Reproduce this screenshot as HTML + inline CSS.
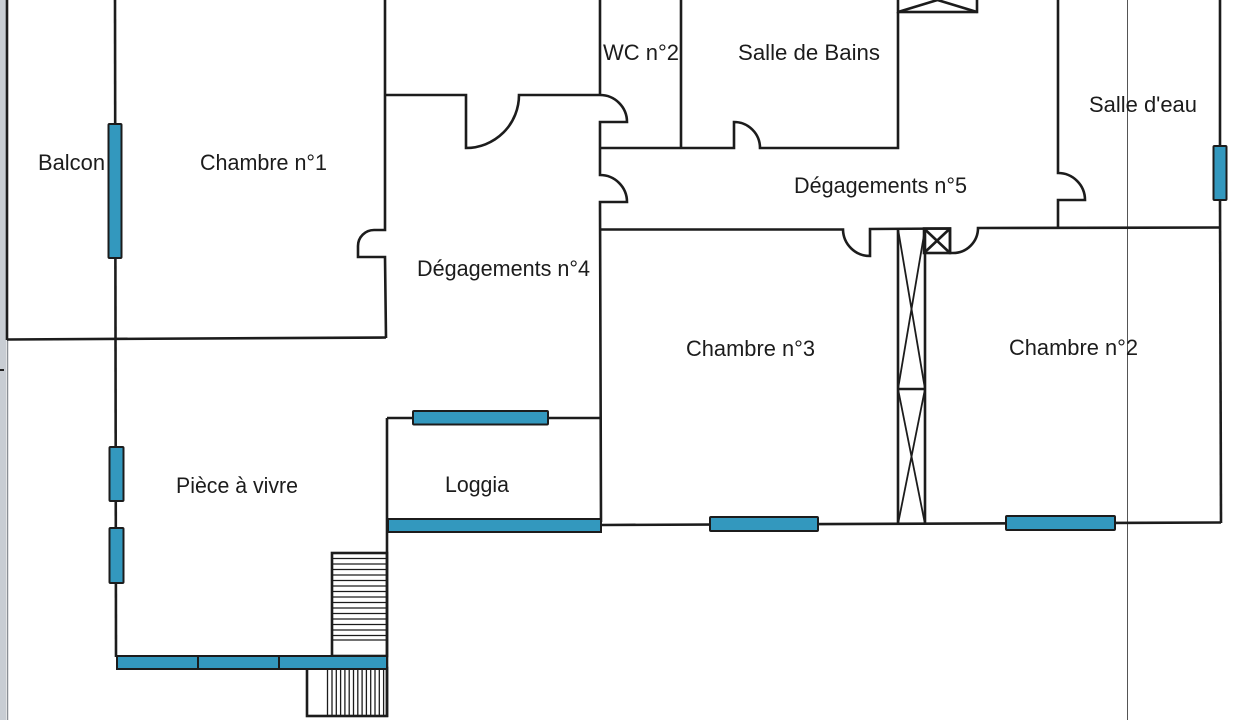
<!DOCTYPE html>
<html><head><meta charset="utf-8"><style>
html,body{margin:0;padding:0;background:#fff;}
svg{display:block;}
text{font-family:"Liberation Sans",Arial,sans-serif;font-size:22.5px;fill:#1c1c1c;}
</style></head><body>
<svg width="1240" height="720" viewBox="0 0 1240 720" xmlns="http://www.w3.org/2000/svg">
<rect width="1240" height="720" fill="#fff"/>
<!-- left gray strip -->
<rect x="0" y="0" width="6" height="720" fill="#c8cdd3"/>
<line x1="7.5" y1="340" x2="7.5" y2="720" stroke="#8a8f95" stroke-width="1.5"/>
<line x1="0" y1="370" x2="4" y2="370" stroke="#222" stroke-width="2"/>
<!-- thin vertical line -->
<line x1="1127.5" y1="0" x2="1127.5" y2="720" stroke="#555" stroke-width="1"/>

<g fill="none" stroke="#1c1c1c" stroke-width="2.6" stroke-linejoin="miter">
<!-- left wall & chambre 1 -->
<line x1="7" y1="0" x2="7" y2="340"/>
<line x1="7" y1="339.5" x2="386" y2="337.5"/>
<line x1="115" y1="0" x2="116" y2="657"/>
<path d="M385,0 L385,230 L374,230 A16,16 0 0 0 358,246 L358,257 L385,257 L386,338"/>
<!-- Degagement 4 top with door -->
<path d="M385,95 L466,95 L466,148 A53,53 0 0 0 519,95 L600,95"/>
<!-- wall x=600 -->
<line x1="600" y1="0" x2="600" y2="95"/>
<path d="M600,95 A27,27 0 0 1 627,122 L600,122 L600,175 A27,27 0 0 1 627,202 L600,202 L601,522"/>
<!-- WC / salle de bains -->
<line x1="681" y1="0" x2="681" y2="148"/>
<path d="M600,148 L734,148 L734,122 A26,26 0 0 1 760,148 L898,148 L898,12"/>
<rect x="898" y="-12" width="79" height="24"/>
<line x1="898" y1="12" x2="937.5" y2="0"/>
<line x1="937.5" y1="0" x2="977" y2="12"/>
<!-- salle d'eau -->
<path d="M1058,0 L1058,173 A27,27 0 0 1 1085,200 L1058,200 L1058,228"/>
<line x1="1220" y1="0" x2="1220" y2="145"/>
<line x1="1220" y1="200" x2="1221" y2="523"/>
<!-- Degagement 5 bottom -->
<path d="M600,229.5 L843,229.5 A27,27 0 0 0 870,256 L870,229 L950,228.5 L950,253 L953,253 A25,25 0 0 0 978,228 L1220,227.5"/>
<rect x="924" y="228.5" width="26" height="24.5"/>
<line x1="924" y1="228.5" x2="950" y2="253"/>
<line x1="950" y1="228.5" x2="924" y2="253"/>
<!-- shaft -->
<line x1="898" y1="229" x2="898" y2="524"/>
<line x1="925" y1="229" x2="925" y2="524"/>
<line x1="898" y1="389" x2="925" y2="389"/>
<g stroke-width="1.8">
<line x1="898" y1="229" x2="925" y2="389"/>
<line x1="925" y1="229" x2="898" y2="389"/>
<line x1="898" y1="389" x2="925" y2="524"/>
<line x1="925" y1="389" x2="898" y2="524"/>
</g>
<!-- bottom wall -->
<line x1="601" y1="525" x2="1221" y2="522.5"/>
<!-- loggia -->
<line x1="387" y1="418" x2="601" y2="418"/>
<line x1="387" y1="418" x2="387" y2="717"/>
<!-- stairs upper -->
<rect x="332" y="553" width="55" height="103"/>
<!-- stairs lower -->
<rect x="307" y="668" width="80" height="48"/>
</g>
<g stroke="#1c1c1c" stroke-width="1.3">
<line x1="332" y1="558.5" x2="387" y2="558.5"/>
<line x1="332" y1="564" x2="387" y2="564"/>
<line x1="332" y1="569.5" x2="387" y2="569.5"/>
<line x1="332" y1="575" x2="387" y2="575"/>
<line x1="332" y1="580.5" x2="387" y2="580.5"/>
<line x1="332" y1="586" x2="387" y2="586"/>
<line x1="332" y1="591.5" x2="387" y2="591.5"/>
<line x1="332" y1="597" x2="387" y2="597"/>
<line x1="332" y1="602.5" x2="387" y2="602.5"/>
<line x1="332" y1="608" x2="387" y2="608"/>
<line x1="332" y1="613.5" x2="387" y2="613.5"/>
<line x1="332" y1="619" x2="387" y2="619"/>
<line x1="332" y1="624.5" x2="387" y2="624.5"/>
<line x1="332" y1="630" x2="387" y2="630"/>
<line x1="332" y1="635.5" x2="387" y2="635.5"/>
<line x1="332" y1="640" x2="387" y2="640"/>
<line x1="327.5" y1="668" x2="327.5" y2="716"/>
<line x1="332" y1="668" x2="332" y2="716"/>
<line x1="336.3" y1="668" x2="336.3" y2="716"/>
<line x1="340.6" y1="668" x2="340.6" y2="716"/>
<line x1="344.9" y1="668" x2="344.9" y2="716"/>
<line x1="349.2" y1="668" x2="349.2" y2="716"/>
<line x1="353.5" y1="668" x2="353.5" y2="716"/>
<line x1="357.8" y1="668" x2="357.8" y2="716"/>
<line x1="362.1" y1="668" x2="362.1" y2="716"/>
<line x1="366.4" y1="668" x2="366.4" y2="716"/>
<line x1="370.7" y1="668" x2="370.7" y2="716"/>
<line x1="375" y1="668" x2="375" y2="716"/>
<line x1="379.3" y1="668" x2="379.3" y2="716"/>
<line x1="383.6" y1="668" x2="383.6" y2="716"/>
</g>

<!-- windows -->
<g fill="#3398be" stroke="#1c1c1c" stroke-width="2">
<rect x="108.5" y="124" width="13" height="134" rx="1"/>
<rect x="109.5" y="447" width="14" height="54" rx="1"/>
<rect x="109.5" y="528" width="14" height="55" rx="1"/>
<rect x="117" y="656" width="81" height="13"/>
<rect x="198" y="656" width="81" height="13"/>
<rect x="279" y="656" width="108" height="13"/>
<rect x="413" y="411" width="135" height="13.5" rx="1"/>
<rect x="388" y="519" width="213" height="13"/>
<rect x="710" y="517" width="108" height="14" rx="1"/>
<rect x="1006" y="516" width="109" height="14" rx="1"/>
<rect x="1213.5" y="146" width="13" height="54" rx="1"/>
</g>

<!-- labels -->
<text x="38" y="170" textLength="67" lengthAdjust="spacingAndGlyphs">Balcon</text>
<text x="200" y="170" textLength="127" lengthAdjust="spacingAndGlyphs">Chambre n°1</text>
<text x="603" y="60" textLength="76" lengthAdjust="spacingAndGlyphs">WC n°2</text>
<text x="738" y="60" textLength="142" lengthAdjust="spacingAndGlyphs">Salle de Bains</text>
<text x="1089" y="112" textLength="108" lengthAdjust="spacingAndGlyphs">Salle d'eau</text>
<text x="794" y="193" textLength="173" lengthAdjust="spacingAndGlyphs">Dégagements n°5</text>
<text x="417" y="276" textLength="173" lengthAdjust="spacingAndGlyphs">Dégagements n°4</text>
<text x="686" y="356" textLength="129" lengthAdjust="spacingAndGlyphs">Chambre n°3</text>
<text x="1009" y="355" textLength="129" lengthAdjust="spacingAndGlyphs">Chambre n°2</text>
<text x="176" y="493" textLength="122" lengthAdjust="spacingAndGlyphs">Pièce à vivre</text>
<text x="445" y="492" textLength="64" lengthAdjust="spacingAndGlyphs">Loggia</text>
</svg>
</body></html>
